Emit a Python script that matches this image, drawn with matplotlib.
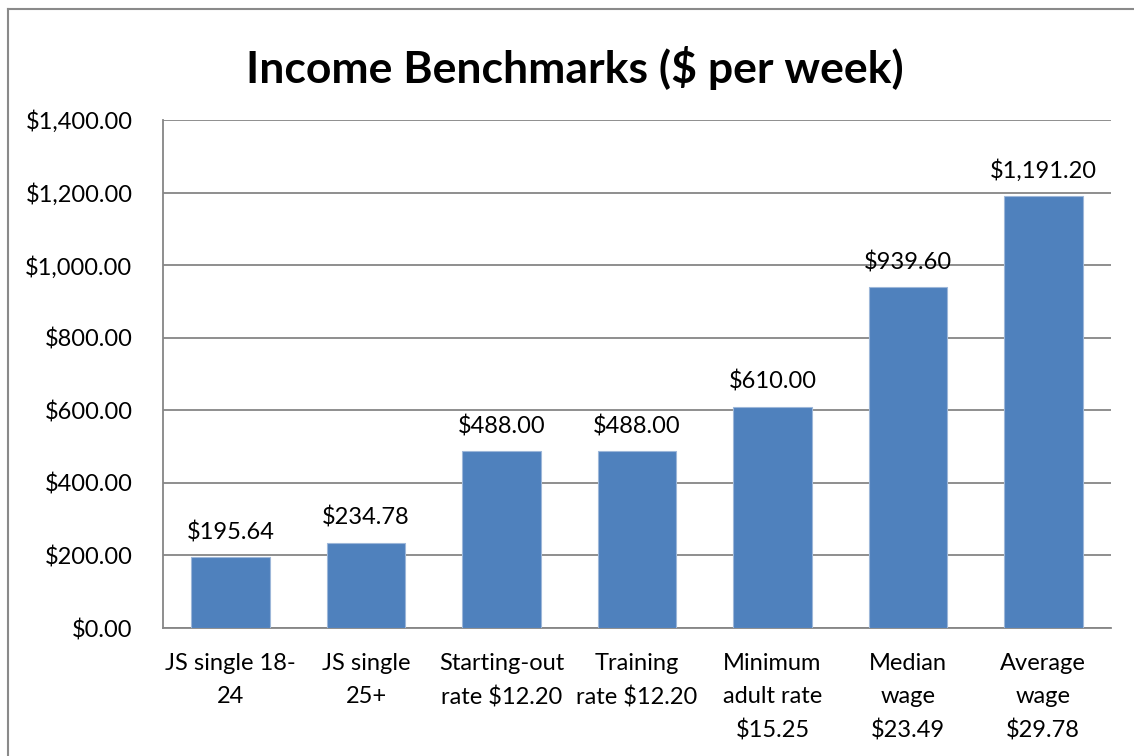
import matplotlib
matplotlib.use("Agg")
import matplotlib.pyplot as plt
from matplotlib.lines import Line2D

# Chart data
categories = ["JS single 18-\n24", "JS single\n25+", "Starting-out\nrate $12.20",
              "Training\nrate $12.20", "Minimum\nadult rate\n$15.25",
              "Median\nwage\n$23.49", "Average\nwage\n$29.78"]
weekly_income = [195.64, 234.78, 488.00, 488.00, 610.00, 939.60, 1191.20]
y_ticks = [0, 200, 400, 600, 800, 1000, 1200, 1400]

plt.rcParams['font.family'] = ['Lato', 'DejaVu Sans']

fig = plt.figure(figsize=(11.34, 7.56), dpi=100)
W, H = 1134, 756
ax = fig.add_axes([163 / W, 1 - 628 / H, (1111 - 163) / W, (628 - 120) / H])

# Outer chart border: only left and top edges are visible
border = dict(transform=fig.transFigure, color='#8a8a8a', linewidth=1.5)
fig.lines.append(Line2D([8 / W, 8 / W], [0, 1 - 9 / H], **border))
fig.lines.append(Line2D([8 / W, 1], [1 - 9 / H, 1 - 9 / H], **border))

x = range(len(categories))
bars = ax.bar(x, weekly_income, width=0.58, color='#4F81BD',
              edgecolor='#9db7d9', linewidth=0.8, zorder=3)

for b, v in zip(bars, weekly_income):
    ax.annotate(f"${v:,.2f}", (b.get_x() + b.get_width() / 2, v),
                xytext=(0, 10), textcoords='offset points',
                ha='center', va='bottom', fontsize=17)

ax.set_xlim(-0.5, len(categories) - 0.5)
ax.set_ylim(0, 1400)
ax.set_yticks(y_ticks)
ax.set_yticklabels([f"${t:,.2f}" for t in y_ticks], fontsize=17)
ax.set_xticks(list(x))
ax.set_xticklabels(categories, fontsize=17, linespacing=1.7)
ax.tick_params(axis='both', length=0)
ax.tick_params(axis='y', pad=22)
ax.tick_params(axis='x', pad=18)

ax.grid(axis='y', color='#868686', linewidth=1.3, zorder=0)
for s in ['top', 'right']:
    ax.spines[s].set_visible(False)
for s in ['left', 'bottom']:
    ax.spines[s].set_color('#868686')
    ax.spines[s].set_linewidth(1.3)

fig.text(575 / W, 1 - 68 / H, "Income Benchmarks ($ per week)",
         ha='center', va='center', fontsize=32, fontweight='bold')

fig.savefig("out.png", dpi=100)
